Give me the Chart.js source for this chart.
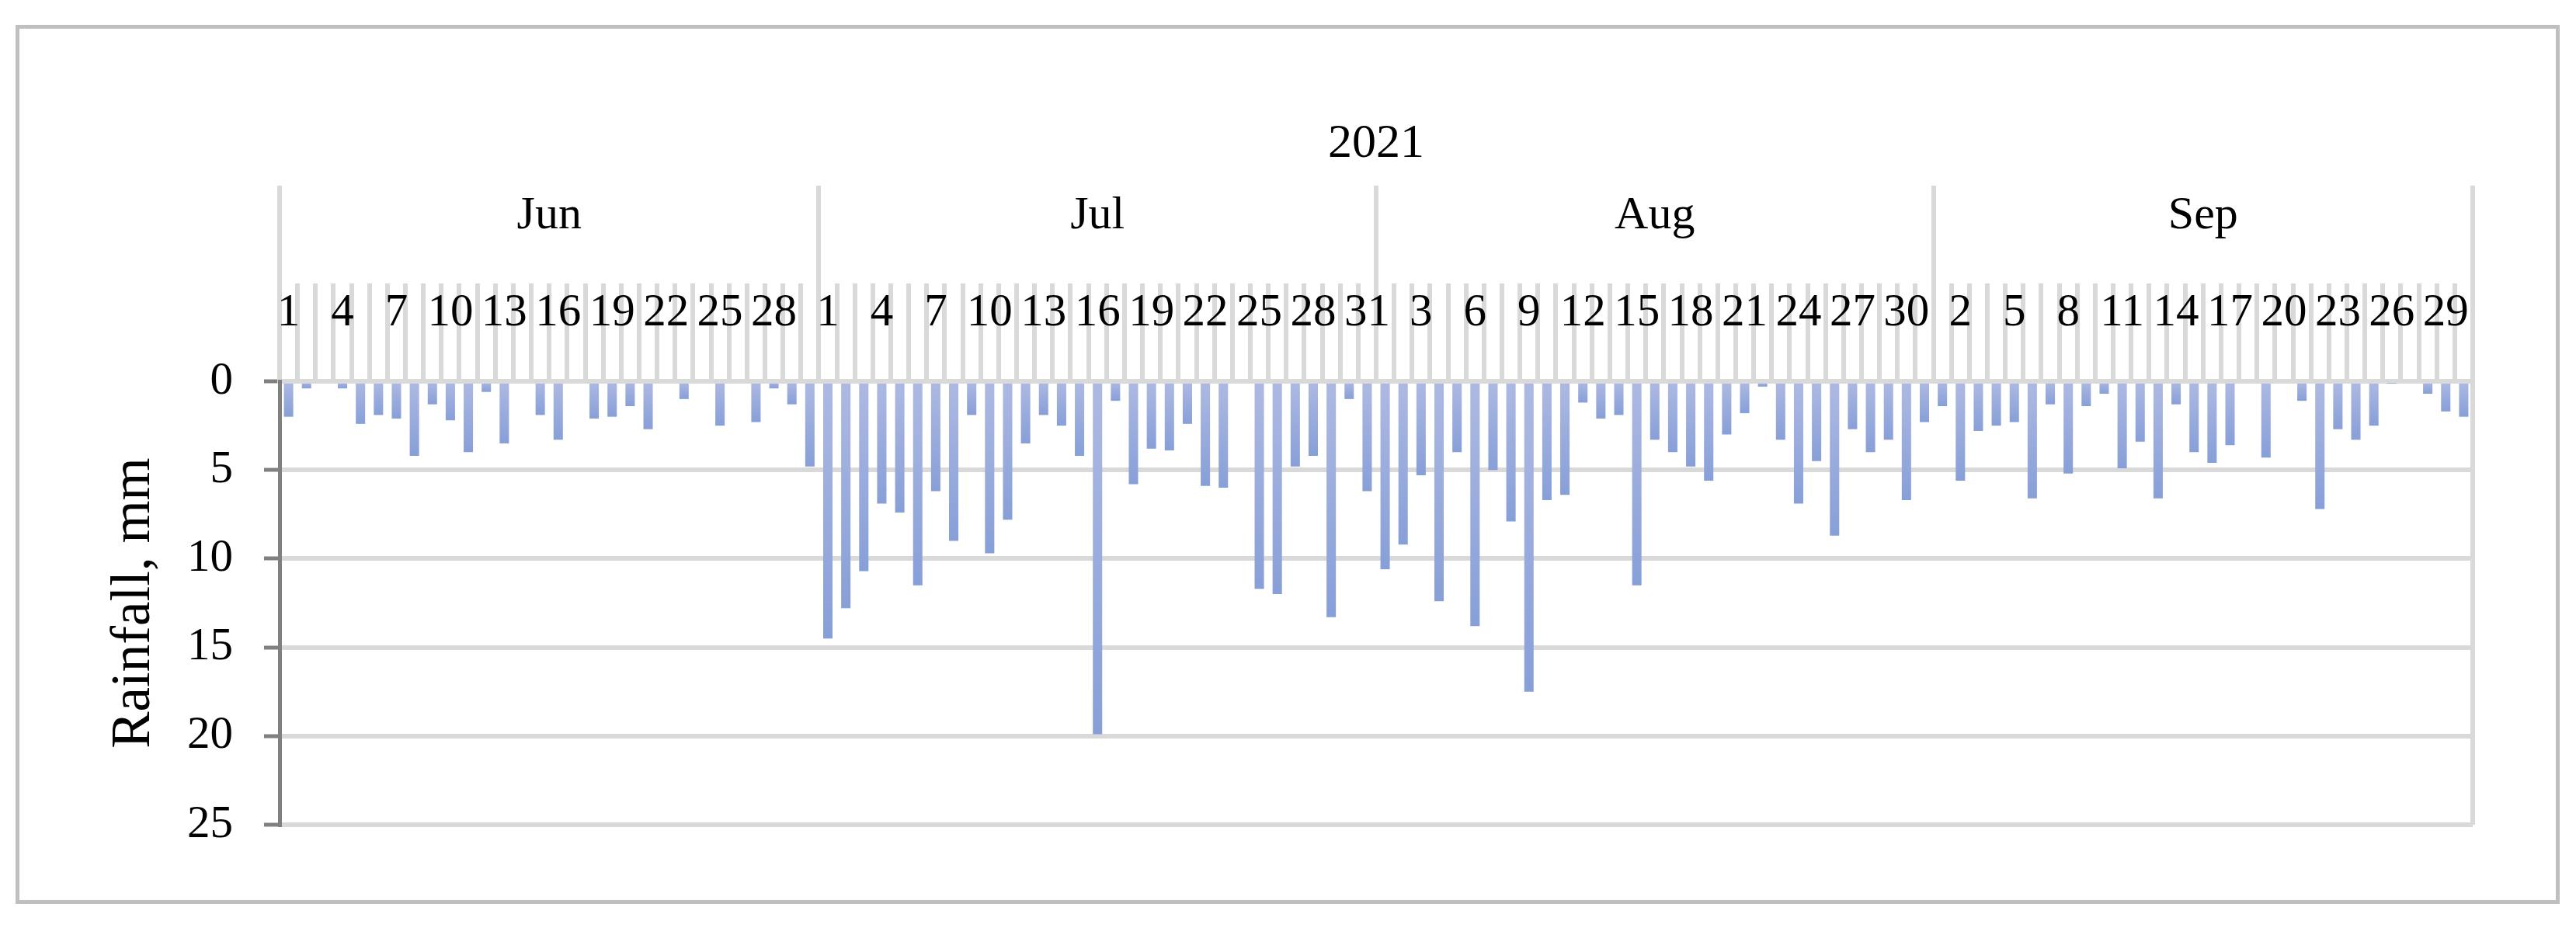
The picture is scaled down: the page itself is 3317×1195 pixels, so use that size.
<!DOCTYPE html>
<html>
<head>
<meta charset="utf-8">
<script src="https://cdn.jsdelivr.net/npm/chart.js@4/dist/chart.umd.min.js"></script>
<style>
html,body{margin:0;padding:0;background:#fff;}
#wrap{position:relative;width:3317px;height:1195px;}
#frame{position:absolute;left:20px;top:32px;width:3276px;height:1132px;border:5px solid #bfbfbf;box-sizing:border-box;pointer-events:none;}
</style>
</head>
<body>
<div id="wrap"><canvas id="c"></canvas><div id="frame"></div></div>
<script>
// ---- data ----
const yearLabel = '2021';
const monthNames = ['Jun', 'Jul', 'Aug', 'Sep'];
const monthDays = [30, 31, 31, 30];
const rainJun = [2.0,0.4,0,0.4,2.4,1.9,2.1,4.2,1.3,2.2,4.0,0.6,3.5,0,1.9,3.3,0,2.1,2.0,1.4,2.7,0,1.0,0,2.5,0,2.3,0.4,1.3,4.8];
const rainJul = [14.5,12.8,10.7,6.9,7.4,11.5,6.2,9.0,1.9,9.7,7.8,3.5,1.9,2.5,4.2,19.9,1.1,5.8,3.8,3.9,2.4,5.9,6.0,0,11.7,12.0,4.8,4.2,13.3,1.0,6.2];
const rainAug = [10.6,9.2,5.3,12.4,4.0,13.8,5.0,7.9,17.5,6.7,6.4,1.2,2.1,1.9,11.5,3.3,4.0,4.8,5.6,3.0,1.8,0.3,3.3,6.9,4.5,8.7,2.7,4.0,3.3,6.7,2.3];
const rainSep = [1.4,5.6,2.8,2.5,2.3,6.6,1.3,5.2,1.4,0.7,4.9,3.4,6.6,1.3,4.0,4.6,3.6,0,4.3,0,1.1,7.2,2.7,3.3,2.5,0.1,0,0.7,1.7,2.0];
const yTicks = [0, 5, 10, 15, 20, 25];
const yTitle = 'Rainfall, mm';

// ---- derived tables for the library ----
const values = [...rainJun, ...rainJul, ...rainAug, ...rainSep];
const dayLabels = [];
monthDays.forEach(n => { for (let d = 1; d <= n; d++) dayLabels.push(String(d)); });
const monthBounds = [-0.5];
const monthCenters = [];
let acc = 0;
monthDays.forEach(n => { monthCenters.push(acc + (n - 1) / 2); acc += n; monthBounds.push(acc - 0.5); });
const xMin = -0.5, xMax = dayLabels.length - 0.5;

const FONT = 'Liberation Serif';
const GRID = '#d9d9d9';
const AXIS = '#808080';
const CLEAR = 'rgba(0,0,0,0)';

const canvas = document.getElementById('c');
canvas.width = 3317; canvas.height = 1195;

new Chart(canvas, {
  type: 'bar',
  data: {
    labels: dayLabels,
    datasets: [{
      data: values,
      barPercentage: 0.52,
      categoryPercentage: 1.0,
      borderWidth: 0,
      backgroundColor: (ctx) => {
        const chart = ctx.chart;
        const ys = chart.scales && chart.scales.y;
        if (!ys || ctx.type !== 'data') return '#9aaddc';
        const v = ctx.raw || 0;
        const y0 = ys.getPixelForValue(0), y1 = ys.getPixelForValue(v);
        if (!isFinite(y0) || !isFinite(y1) || Math.abs(y1 - y0) < 1) return '#8ea4d9';
        const g = chart.ctx.createLinearGradient(0, y0, 0, y1);
        g.addColorStop(0, '#adb9e2');
        g.addColorStop(1, '#879fd8');
        return g;
      }
    }]
  },
  options: {
    responsive: false,
    devicePixelRatio: 1,
    animation: false,
    layout: { padding: { left: 60, right: 133, top: 100, bottom: 133 } },
    plugins: { legend: { display: false }, tooltip: { enabled: false }, title: { display: false } },
    scales: {
      x: {
        type: 'category', position: 'top', weight: 0, z: 1, offset: true,
        grid: {
          offset: true, drawOnChartArea: true, drawTicks: true,
          tickLength: 126, tickWidth: 6, lineWidth: 6, tickColor: GRID,
          color: (c) => c.type === 'tick' ? CLEAR : GRID
        },
        border: { display: true, color: GRID, width: 6 },
        ticks: {
          autoSkip: false, maxRotation: 0, minRotation: 0, padding: -68, color: '#000',
          font: { family: FONT, size: 59, lineHeight: 1 },
          callback: (v, i) => (i % 3 === 0 ? dayLabels[i] : '')
        },
        afterFit: (s) => { s.height = 126; }
      },
      xm: {
        axis: 'x', type: 'linear', position: 'top', weight: 1, min: xMin, max: xMax,
        offset: false, bounds: 'data',
        afterBuildTicks: (s) => { s.ticks = [...monthBounds, ...monthCenters].sort((a, b) => a - b).map(v => ({ value: v })); },
        grid: {
          offset: false, drawOnChartArea: false, drawTicks: true, tickLength: 126, tickWidth: 6, lineWidth: 6,
          color: (c) => (c.type === 'tick' && monthBounds.includes(c.tick.value)) ? GRID : CLEAR,
          tickColor: (c) => (c.type === 'tick' && monthBounds.includes(c.tick.value)) ? GRID : CLEAR
        },
        border: { display: false },
        ticks: {
          autoSkip: false, maxRotation: 0, minRotation: 0, padding: -69, color: '#000',
          font: { family: FONT, size: 60, lineHeight: 1 },
          callback: (v) => { const k = monthCenters.indexOf(v); return k >= 0 ? monthNames[k] : ''; }
        },
        afterFit: (s) => { s.height = 126; }
      },
      xy: {
        axis: 'x', type: 'linear', position: 'top', weight: 2, min: xMin, max: xMax,
        offset: false, bounds: 'data',
        afterBuildTicks: (s) => { s.ticks = [{ value: (xMin + xMax) / 2 }]; },
        grid: { display: false, offset: false, drawTicks: false, drawOnChartArea: false },
        border: { display: false },
        ticks: {
          autoSkip: false, maxRotation: 0, minRotation: 0, padding: 22, color: '#000',
          font: { family: FONT, size: 62, lineHeight: 1 },
          callback: () => yearLabel
        },
        afterFit: (s) => { s.height = 139; }
      },
      y: {
        type: 'linear', position: 'left', reverse: true, min: 0, max: 25,
        afterBuildTicks: (s) => { s.ticks = yTicks.map(v => ({ value: v })); },
        grid: { color: GRID, lineWidth: 6, drawTicks: true, tickLength: 20, tickWidth: 5, tickColor: AXIS },
        border: { display: true, color: AXIS, width: 5 },
        ticks: { padding: 40, color: '#000', font: { family: FONT, size: 59 } },
        title: {
          display: true, text: yTitle, color: '#000',
          font: { family: FONT, size: 71, lineHeight: 1 },
          padding: { top: 78, bottom: 0 }
        },
        afterFit: (s) => { s.width = 300; }
      }
    }
  }
});
</script>
</body>
</html>
